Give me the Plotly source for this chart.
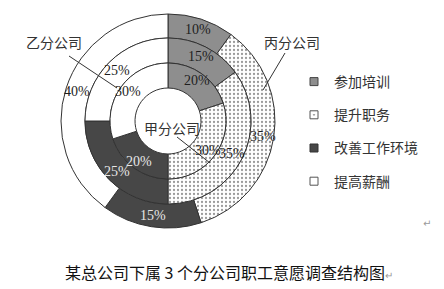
import math
import plotly.graph_objects as go

# Survey results: share of staff choosing each wish, per branch company
wishes = ["参加培训", "提升职务", "改善工作环境", "提高薪酬"]
branch_jia = [20, 30, 20, 30]   # inner ring
branch_bing = [15, 35, 25, 25]  # middle ring
branch_yi = [10, 35, 15, 40]    # outer ring
branch_names = ["甲分公司", "乙分公司", "丙分公司"]
title_text = "某总公司下属 3 个分公司职工意愿调查结构图"

W, H = 444, 289
CX, CY = 168, 121            # ring centre in pixels
R_OUT, R_MID, R_IN, R_HOLE = 107, 83, 58, 33

fills = ["#8e8e8e", "#ffffff", "#474747", "#ffffff"]
shapes_pat = ["", ".", "", ""]
text_cols = ["#1e1e1e", "#1e1e1e", "#e6e6e6", "#1e1e1e"]


def px(x):
    return x / W


def py(y):
    return 1 - y / H


def dom(r):
    return dict(x=[px(CX - r), px(CX + r)], y=[py(CY + r), py(CY - r)])


def ring(values, r_outer, r_inner):
    return go.Pie(
        labels=wishes,
        values=values,
        sort=False,
        direction="clockwise",
        rotation=0,
        hole=r_inner / r_outer,
        domain=dom(r_outer),
        marker=dict(
            colors=fills,
            line=dict(color="#333333", width=1),
            pattern=dict(shape=shapes_pat, fgcolor="#9a9a9a", size=4, solidity=0.25),
        ),
        textinfo="none",
        showlegend=False,
        hoverinfo="label+value",
    )


def ring_labels(values, r_text):
    """Percentage labels placed at each slice's mid-angle (clockwise from 12 o'clock)."""
    total = sum(values)
    out, acc = [], 0
    for v, col in zip(values, text_cols):
        mid = (acc + v / 2) / total * 2 * math.pi
        acc += v
        x = CX + r_text * math.sin(mid)
        y = CY - r_text * math.cos(mid)
        out.append(dict(text=f"{v}%", x=px(x), y=py(y),
                        font=dict(family="Liberation Serif", size=14, color=col)))
    return out


fig = go.Figure()
fig.add_trace(ring(branch_yi, R_OUT, R_MID))
fig.add_trace(ring(branch_bing, R_MID, R_IN))
fig.add_trace(ring(branch_jia, R_IN, R_HOLE))

# Legend entries (one group per wish so the rows can be spaced apart)
legend_symbols = [
    dict(symbol="square", color="#8e8e8e", line=dict(color="#444", width=1)),
    dict(symbol="square-open-dot", color="#555555", line=dict(color="#555", width=1)),
    dict(symbol="square", color="#474747", line=dict(color="#333", width=1)),
    dict(symbol="square-open", color="#555555", line=dict(color="#555", width=1)),
]
for name, sym in zip(wishes, legend_symbols):
    fig.add_trace(go.Scatter(
        x=[None], y=[None], mode="markers", name=name, legendgroup=name,
        marker=dict(size=8, **sym), hoverinfo="skip",
    ))

label_font = dict(family="Noto Sans CJK SC", size=14, color="#333333")
annotations = [
    dict(text=branch_names[0], x=px(172), y=py(128)),
    dict(text=branch_names[1], x=px(54), y=py(42)),
    dict(text=branch_names[2], x=px(292), y=py(42)),
    dict(text=title_text + "<span style='font-size:10px;color:#9a9a9a'>↵</span>",
         x=px(229), y=py(272), font=dict(family="Noto Sans CJK SC", size=16, color="#111111")),
    dict(text="↵", x=px(427), y=py(223), font=dict(family="DejaVu Sans", size=10, color="#9a9a9a")),
]
annotations += ring_labels(branch_yi, 96)
annotations += ring_labels(branch_bing, 72)
annotations += ring_labels(branch_jia, 50)
for a in annotations:
    a.setdefault("font", label_font)
    a.update(xref="paper", yref="paper", showarrow=False, xanchor="center", yanchor="middle")

# Leader lines from branch names to their rings
leaders = [((69, 56), (117, 88)), ((285, 53), (263, 90)), ((177, 137), (210, 163))]
shapes = [
    dict(type="line", xref="paper", yref="paper",
         x0=px(a[0]), y0=py(a[1]), x1=px(b[0]), y1=py(b[1]),
         line=dict(color="#333333", width=1))
    for a, b in leaders
]

fig.update_layout(
    width=W, height=H,
    margin=dict(l=0, r=0, t=0, b=0),
    paper_bgcolor="white", plot_bgcolor="white",
    xaxis=dict(visible=False), yaxis=dict(visible=False),
    annotations=annotations, shapes=shapes,
    legend=dict(
        x=px(294), y=py(66), xanchor="left", yanchor="top",
        font=dict(family="Noto Sans CJK SC", size=14, color="#333333"),
        tracegroupgap=12, itemwidth=30, bgcolor="rgba(0,0,0,0)",
    ),
)

fig.write_html("out.html")
